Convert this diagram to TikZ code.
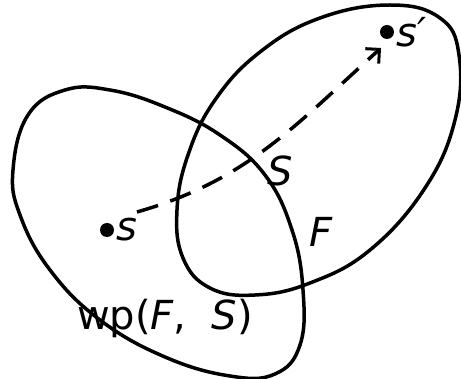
\documentclass[tikz,border=0pt]{standalone}
\usepackage{fontspec}
\setmainfont{DejaVu Sans}
\usetikzlibrary{arrows.meta}
\begin{document}
\begin{tikzpicture}[x=1pt,y=-1pt,
  region/.style={line width=3.5pt, tension=0.7},
  pt/.style={circle, fill=black, inner sep=0pt, minimum size=14pt},
  lbl/.style={font=\fontsize{40}{46}\selectfont, inner sep=0pt},
  flow/.style={line width=3.5pt, dash pattern=on 22pt off 13pt, -{Straight Barb[length=10pt,width=20pt,line width=3pt]}}]
\useasboundingbox (0,0) rectangle (461,379);
% left region wp(F,S)
\draw[region] plot[smooth cycle] coordinates {
  (13,170) (28,115) (65,90) (110,90) (165,107) (220,135) (265,175) (292,230)
  (303,290) (300,345) (275,374) (230,376) (165,357) (100,320) (50,270) (20,215)};
% right region F
\draw[region] plot[smooth cycle] coordinates {
  (390,5) (440,18) (459,55) (455,120) (425,188) (370,250) (310,283) (255,295)
  (210,288) (183,258) (177,210) (188,155) (215,100) (260,52) (320,18)};
\node[pt] (s) at (107,230) {};
\node[pt] (sp) at (387,32) {};
\node[lbl, anchor=west] (sl) at ([xshift=2pt]s.east) {\itshape s};
\node[lbl, anchor=west] (spl) at ([xshift=2pt]sp.east) {\itshape s′};
\node[lbl] (S) at (280,171) {\itshape S};
\node[lbl] (F) at (321,232) {\itshape F};
\node[lbl] (wp) at (165,318) {wp(\textit{F},\ \ \textit{S})};
\draw[flow] (s) ++(30,-18) coordinate (st) to[out=16,in=222] ([shift={(-6,16)}]sp.center) coordinate (en);
\end{tikzpicture}
\end{document}
